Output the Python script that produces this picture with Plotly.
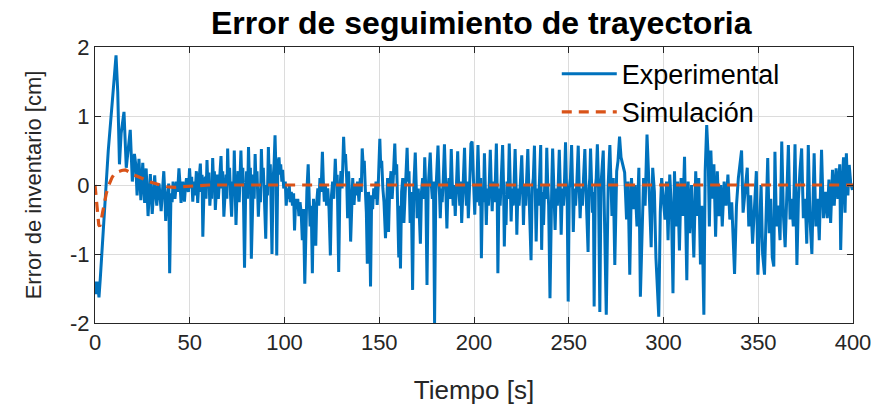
import plotly.graph_objects as go

# Experimental tracking error [cm] vs time [s], as (t, e) readings per time window
exp_0_50 = [
    (0.0, -1.40), (0.5, -1.58), (1.3, -1.40), (2.1, -1.63), (2.8, -1.35), (5.0, -0.40), (7.0, 0.50),
    (9.4, 1.30), (10.3, 1.55), (11.1, 1.88), (12.0, 1.35), (12.9, 0.30), (13.8, 0.75), (15.3, 1.06),
    (16.5, 0.25), (17.5, 0.55), (18.6, 0.80), (19.7, 0.05), (20.8, 0.45), (21.5, 0.30), (22.2, -0.15),
    (22.7, 0.10), (23.2, 0.38), (24.2, -0.22), (24.7, 0.05), (25.2, 0.32), (26.2, -0.26), (26.6, 0.00),
    (27.0, 0.24), (28.0, -0.45), (28.6, -0.10), (29.2, 0.16), (30.2, -0.42), (30.8, -0.05),
    (31.5, 0.14), (32.0, -0.10), (32.6, -0.30), (33.2, -0.05), (33.8, 0.02), (34.9, -0.38),
    (35.6, -0.05), (36.3, 0.20), (36.8, -0.10), (37.3, -0.52), (38.1, -0.18), (38.9, 0.02),
    (39.4, -1.28), (40.1, -0.12), (40.7, -0.25), (41.2, 0.05), (42.2, -0.20), (43.0, 0.05),
    (43.6, -0.10), (44.3, 0.24), (44.9, 0.00), (45.4, -0.26), (46.3, 0.05), (46.8, -0.10),
    (47.2, -0.24), (47.8, 0.00), (48.3, 0.10), (48.8, -0.05), (49.3, -0.10),
]
exp_50_96 = [
    (49.9, 0.24), (50.5, -0.05), (51.0, 0.12), (51.6, -0.24), (52.2, 0.05), (52.8, -0.15),
    (53.5, 0.20), (54.2, -0.26), (54.8, 0.05), (55.6, 0.31), (56.1, -0.10), (56.5, 0.15),
    (56.9, -0.75), (57.5, -0.10), (58.2, 0.12), (58.6, -0.20), (59.1, 0.36), (59.6, -0.05),
    (60.1, 0.18), (60.6, -0.30), (61.2, -0.05), (61.6, -0.20), (62.1, 0.39), (62.6, 0.00),
    (63.0, 0.20), (63.5, -0.36), (64.1, -0.05), (64.6, 0.15), (65.1, -0.20), (65.6, 0.10),
    (66.5, 0.42), (67.0, -0.05), (67.4, 0.20), (68.0, -0.46), (68.6, -0.10), (69.2, 0.15),
    (69.6, -0.20), (70.0, 0.53), (70.5, 0.00), (71.0, 0.25), (71.6, -0.20), (72.1, -0.46),
    (72.7, 0.05), (73.1, -0.15), (73.5, 0.50), (74.0, 0.00), (74.4, -0.58), (75.0, -0.05),
    (75.5, 0.20), (76.1, -0.25), (76.5, 0.05), (77.0, 0.50), (77.5, 0.00), (78.0, 0.25),
    (78.4, -0.30), (78.9, -1.20), (79.5, -0.10), (80.0, 0.20), (80.5, -0.20), (81.0, 0.55),
    (81.5, 0.05), (82.0, 0.25), (82.5, -1.07), (83.1, -0.10), (83.6, 0.15), (84.0, -0.20),
    (84.5, 0.45), (85.0, 0.00), (85.5, 0.20), (86.2, -0.46), (86.8, -0.05), (87.3, -0.25),
    (87.8, 0.52), (88.3, 0.05), (88.8, 0.25), (89.4, -0.20), (90.1, -0.78), (90.6, 0.00),
    (91.0, -0.15), (91.5, 0.55), (92.0, 0.05), (92.5, 0.30), (93.0, -0.25), (93.4, -1.00),
    (94.0, 0.10), (94.5, 0.30), (95.0, 0.72), (95.5, 0.20), (95.9, -1.02), (96.5, 0.30),
]
exp_96_134 = [
    (97.1, 0.40), (97.6, 0.15), (98.0, 0.30), (98.6, 0.05), (99.0, 0.22), (99.6, -0.05),
    (100.4, 0.05), (100.9, -0.30), (101.5, -0.05), (102.0, -0.20), (102.5, 0.00), (103.0, -0.25),
    (103.6, -0.10), (104.2, -0.30), (104.8, -0.12), (105.3, -0.66), (105.9, -0.20), (106.4, -0.35),
    (107.0, -0.20), (107.6, -0.45), (108.2, -0.25), (108.8, -0.40), (109.4, -0.80), (110.0, -0.35),
    (110.7, -1.43), (111.3, -0.40), (111.8, -0.10), (112.5, 0.30), (113.0, -0.20), (113.5, -0.60),
    (114.1, -0.30), (114.7, -1.28), (115.3, -0.20), (115.8, -0.45), (116.5, -0.88), (117.0, -0.25),
    (117.6, -0.05), (118.1, -0.30), (118.7, 0.10), (119.3, -0.10), (120.0, 0.48), (120.5, 0.05),
    (121.0, -0.24), (121.6, 0.00), (122.2, -0.30), (122.8, -0.05), (123.5, -0.35), (124.2, -1.02),
    (124.8, -0.15), (125.4, 0.05), (126.0, -0.20), (126.8, 0.38), (127.3, 0.00), (127.8, 0.15),
    (128.6, -1.26), (129.2, -0.10), (129.8, 0.20), (130.4, -0.05), (131.2, 0.70), (131.7, 0.35),
    (132.2, 0.45), (132.8, 0.10), (133.3, -0.48), (133.8, 0.20),
]
exp_134_199 = [
    (134.4, -0.20), (134.9, -0.82), (135.5, -0.15), (136.0, 0.10), (136.7, -0.29), (137.3, 0.00),
    (137.9, -0.15), (138.5, 0.05), (139.3, -0.24), (140.0, 0.10), (140.5, -0.10), (141.0, 0.53),
    (141.6, 0.25), (142.1, 0.35), (142.7, -0.10), (143.2, -0.40), (143.7, -1.14), (144.3, -0.10),
    (144.8, -0.30), (145.4, -1.47), (146.0, -0.15), (146.5, -0.35), (147.1, -0.05), (147.7, -0.20),
    (148.3, 0.05), (148.9, -0.29), (149.6, 0.10), (150.3, 0.67), (150.8, 0.25), (151.3, 0.35),
    (151.9, -0.05), (152.5, -0.25), (153.3, -0.77), (153.9, -0.10), (154.4, 0.10), (154.9, -0.68),
    (155.5, -0.05), (156.2, 0.20), (156.8, -0.20), (157.4, 0.10), (158.2, 0.60), (158.7, 0.15),
    (159.2, 0.30), (159.7, -0.30), (160.3, -1.05), (160.8, -0.30), (161.2, -1.21), (161.8, -0.10),
    (162.4, 0.10), (163.0, -0.55), (163.6, -0.05), (164.1, 0.15), (164.7, 0.54), (165.2, 0.05),
    (165.7, 0.20), (166.3, -0.55), (166.9, -0.10), (167.6, -1.52), (168.2, -0.05), (168.6, 0.15),
    (169.0, 0.47), (169.5, 0.00), (170.0, -0.48), (170.6, -0.05), (171.2, -0.40), (171.7, -0.85),
    (172.3, -0.10), (172.9, 0.10), (173.5, -0.20), (174.0, 0.40), (174.6, -0.10), (175.2, -1.45),
    (175.8, -0.05), (176.4, 0.20), (176.9, 0.47), (177.5, 0.00), (178.0, -0.20), (178.6, 0.05),
    (179.2, -2.00), (179.8, -0.15), (180.4, 0.15), (181.0, 0.57), (181.6, 0.05), (182.2, -0.48),
    (182.7, -0.05), (183.2, -0.25), (183.8, 0.10), (184.4, 0.59), (185.0, 0.05), (185.7, -0.63),
    (186.2, -0.10), (186.8, 0.10), (187.4, -0.20), (188.0, 0.52), (188.5, 0.05), (189.0, -0.30),
    (189.5, 0.00), (190.1, -0.45), (190.8, 0.05), (191.4, 0.49), (191.9, 0.00), (192.5, -0.30),
    (193.0, 0.05), (193.5, -0.55), (194.2, -0.05), (195.0, 0.54), (195.5, 0.00), (196.0, -0.30),
    (196.5, 0.05), (197.0, -0.48), (197.7, 0.00), (198.4, 0.60),
]
exp_199_267 = [
    (199.0, 0.63), (199.6, 0.05), (200.4, -0.43), (200.8, 0.00), (201.3, -0.25), (202.1, 0.58),
    (202.6, 0.05), (203.0, -0.30), (203.5, 0.10), (203.9, -1.06), (204.5, -0.05), (205.0, -0.25),
    (205.5, 0.46), (206.0, 0.00), (206.5, -0.58), (207.0, -0.05), (207.6, -0.30), (208.1, 0.05),
    (208.6, 0.51), (209.1, 0.00), (209.6, -0.38), (210.1, 0.05), (210.8, -0.25), (211.3, 0.10),
    (211.8, 0.60), (212.2, 0.00), (212.6, -1.28), (213.2, -0.05), (213.8, -0.30), (214.4, 0.10),
    (215.1, 0.58), (215.6, 0.00), (216.0, -0.89), (216.5, -0.20), (216.9, -0.58), (217.4, 0.05),
    (218.0, -0.20), (218.6, 0.60), (219.1, 0.00), (219.6, -0.53), (220.1, -0.05), (220.7, -0.30),
    (221.2, 0.05), (221.7, 0.52), (222.2, 0.00), (222.6, -0.72), (223.2, -0.05), (223.8, -0.30),
    (224.5, 0.05), (225.2, 0.43), (225.7, -0.05), (226.1, -0.58), (226.7, 0.00), (227.3, -0.30),
    (227.8, 0.10), (228.4, 0.52), (228.9, 0.00), (229.4, -0.35), (230.1, -1.09), (230.7, -0.05),
    (231.3, 0.10), (231.9, 0.57), (232.4, 0.00), (232.8, -0.82), (233.4, -0.05), (234.0, -0.30),
    (234.6, 0.10), (235.2, 0.58), (235.7, -0.94), (236.2, -0.10), (236.7, -0.58), (237.3, 0.00),
    (237.9, -0.20), (238.4, 0.54), (238.9, 0.00), (239.4, -0.30), (240.1, -1.64), (240.7, -0.05),
    (241.1, 0.10), (241.5, 0.53), (242.1, 0.00), (242.8, -0.65), (243.4, -0.05), (244.0, -0.30),
    (244.5, 0.05), (245.0, 0.51), (245.5, 0.00), (246.0, -0.72), (246.6, -0.05), (247.2, -0.30),
    (247.8, 0.10), (248.3, 0.62), (248.8, 0.00), (249.2, -0.30), (249.7, -1.69), (250.3, -0.05),
    (250.9, 0.10), (251.5, 0.58), (252.0, 0.00), (252.4, -0.68), (253.0, -0.05), (253.6, -0.30),
    (254.3, 0.05), (255.0, 0.57), (255.5, 0.00), (256.0, -0.48), (256.6, -0.05), (257.2, -0.30),
    (257.8, 0.10), (258.5, 0.52), (259.0, 0.00), (259.5, -0.35), (260.2, -0.97), (260.7, -0.05),
    (261.1, 0.10), (261.5, 0.53), (262.0, 0.00), (262.5, -0.40), (263.0, -0.10), (263.4, -1.76),
    (264.0, -0.05), (264.5, 0.10), (265.1, 0.59), (265.7, 0.00), (266.4, -1.84), (267.0, 0.00),
]
exp_267_400 = [
    (268.2, 0.50), (269.0, -0.60), (269.8, -1.88), (270.8, 0.00), (271.7, 0.58), (272.8, -0.45),
    (273.5, 0.10), (274.3, -1.16), (275.3, 0.20), (276.0, 0.35), (276.8, 0.70), (277.6, 0.40),
    (278.6, 0.30), (279.5, 0.18), (280.5, -0.50), (281.3, 0.05), (282.2, -1.30), (283.1, 0.10),
    (284.0, -0.35), (285.0, 0.00), (286.0, -0.60), (287.0, 0.25), (287.8, -1.62), (288.7, -0.80),
    (289.5, 0.10), (290.3, -0.30), (291.3, 0.73), (292.2, 0.10), (293.5, -0.90), (294.3, 0.25),
    (295.2, -0.10), (296.0, -1.05), (297.5, -1.91), (298.3, -0.40), (299.0, 0.10), (300.0, -0.25),
    (300.8, -0.50), (301.6, 0.05), (302.4, -0.80), (303.3, 0.15), (304.2, -0.35), (305.0, -1.57),
    (305.8, 0.20), (306.6, -0.60), (307.5, 0.05), (308.4, -0.95), (309.3, 0.10), (310.2, -0.45),
    (311.1, 0.41), (312.3, -1.38), (313.0, 0.05), (313.8, -0.70), (314.8, 0.00), (316.0, -1.05),
    (317.0, 0.20), (317.8, -0.45), (318.6, 0.10), (319.5, -1.15), (320.2, -0.30), (321.3, -1.88),
    (322.0, 0.20), (322.8, 0.87), (323.6, 0.40), (324.2, -0.60), (325.0, 0.50), (325.8, -0.20),
    (326.6, 0.30), (327.5, -0.75), (328.4, 0.20), (329.3, -0.45), (330.2, 0.00), (331.0, -0.60),
    (332.0, 0.05), (333.0, -0.30), (334.0, 0.15), (335.0, -0.50), (336.0, -0.25), (337.5, -1.29),
    (338.5, -0.30), (339.5, 0.10), (341.2, 0.50), (342.0, -0.40), (343.0, -0.10), (344.2, 0.25),
    (345.0, -0.60), (346.0, -0.15), (347.0, -0.85), (348.0, -0.30), (349.0, 0.20), (349.8, -1.30),
    (350.6, -0.60), (351.5, 0.00), (352.3, -1.00), (353.3, -1.30), (354.2, -0.40), (355.0, 0.39),
    (355.8, -0.70), (356.6, -0.20), (357.4, -1.05), (358.2, -1.18), (358.8, 0.48), (359.6, -0.60),
    (360.5, -0.30), (361.5, -0.80), (362.4, 0.63), (363.3, -0.45), (364.2, -0.90), (365.0, 0.00),
    (365.9, 0.58), (366.8, -0.50), (367.6, -0.20), (368.5, -0.60), (369.4, 0.59), (370.4, -1.16),
    (371.2, -0.20), (372.0, 0.20), (372.9, 0.53), (373.8, -0.48), (374.8, -0.20), (375.6, -0.85),
    (376.4, 0.58), (377.3, -0.50), (378.3, -1.00), (379.5, 0.46), (380.4, -0.60), (381.3, -0.20),
    (382.2, -0.80), (383.4, 0.51), (384.4, -0.48), (385.4, -0.10), (386.4, -0.48), (387.3, 0.08),
    (388.2, -0.55), (389.2, 0.22), (390.1, -0.30), (391.1, 0.24), (392.0, -0.20), (393.0, 0.30),
    (393.5, -0.94), (394.3, 0.00), (395.0, 0.40), (395.8, -0.40), (396.5, 0.46), (397.3, -0.15),
    (398.0, 0.29), (398.8, 0.02), (399.7, -0.07), (400.0, 0.00),
]

# Simulated tracking error
t_sim = [0, 0.5, 1, 1.5, 2, 2.5, 3, 4, 5, 6, 7, 8, 9, 10, 12, 14, 16, 18, 20, 22, 24, 26, 28, 30,
         32, 35, 38, 42, 46, 50, 60, 100, 200, 300, 400]
e_sim = [0, -0.18, -0.36, -0.50, -0.58, -0.60, -0.55, -0.40, -0.25, -0.12, -0.02, 0.06, 0.11, 0.15,
         0.19, 0.21, 0.22, 0.19, 0.15, 0.13, 0.11, 0.09, 0.06, 0.035, 0.015, -0.005, -0.025, -0.035,
         -0.025, -0.015, 0, 0, 0, 0, 0]

x_ticks = [0, 50, 100, 150, 200, 250, 300, 350, 400]
y_ticks = [-2, -1, 0, 1, 2]
y_tick_text = ["-2", "-1", "0", "1", "2"]

exp_points = exp_0_50 + exp_50_96 + exp_96_134 + exp_134_199 + exp_199_267 + exp_267_400
t_exp = [p[0] for p in exp_points]
e_exp = [p[1] for p in exp_points]

FONT = "Liberation Sans, Arial, sans-serif"
AX = "#262626"
GRID = "#dcdcdc"

fig = go.Figure()
fig.add_trace(go.Scatter(x=t_exp, y=e_exp, mode="lines", name="Experimental",
                         line=dict(color="#0072BD", width=3)))
fig.add_trace(go.Scatter(x=t_sim, y=e_sim, mode="lines", name="Simulación",
                         line=dict(color="#D95319", width=3.2, dash="10px,7px")))

axis_common = dict(showline=True, linecolor=AX, linewidth=1, mirror="allticks",
                   ticks="inside", ticklen=6, tickcolor=AX, showgrid=True,
                   gridcolor=GRID, gridwidth=1, zeroline=False,
                   tickfont=dict(family=FONT, size=22, color=AX))

fig.update_xaxes(range=[0, 400], tickvals=x_ticks,
                 title=dict(text="Tiempo [s]", font=dict(family=FONT, size=26, color=AX), standoff=26),
                 **axis_common)
fig.update_yaxes(range=[-2, 2], tickvals=y_ticks, ticktext=y_tick_text,
                 title=dict(text="Error de inventario [cm]", font=dict(family=FONT, size=22, color=AX), standoff=22),
                 **axis_common)

fig.update_layout(
    width=883, height=413,
    margin=dict(l=95, r=26, t=47, b=90),
    paper_bgcolor="white", plot_bgcolor="white",
    title=dict(text="<b>Error de seguimiento de trayectoria</b>", x=0.545, xanchor="center",
               y=0.945, yanchor="middle", font=dict(family=FONT, size=32, color="black")),
    legend=dict(x=0.91, y=0.99, xanchor="right", yanchor="top", bgcolor="rgba(0,0,0,0)",
                borderwidth=0, font=dict(family=FONT, size=27, color="black"),
                itemwidth=55, tracegroupgap=0),
    showlegend=True,
)

fig.write_html("out.html")
